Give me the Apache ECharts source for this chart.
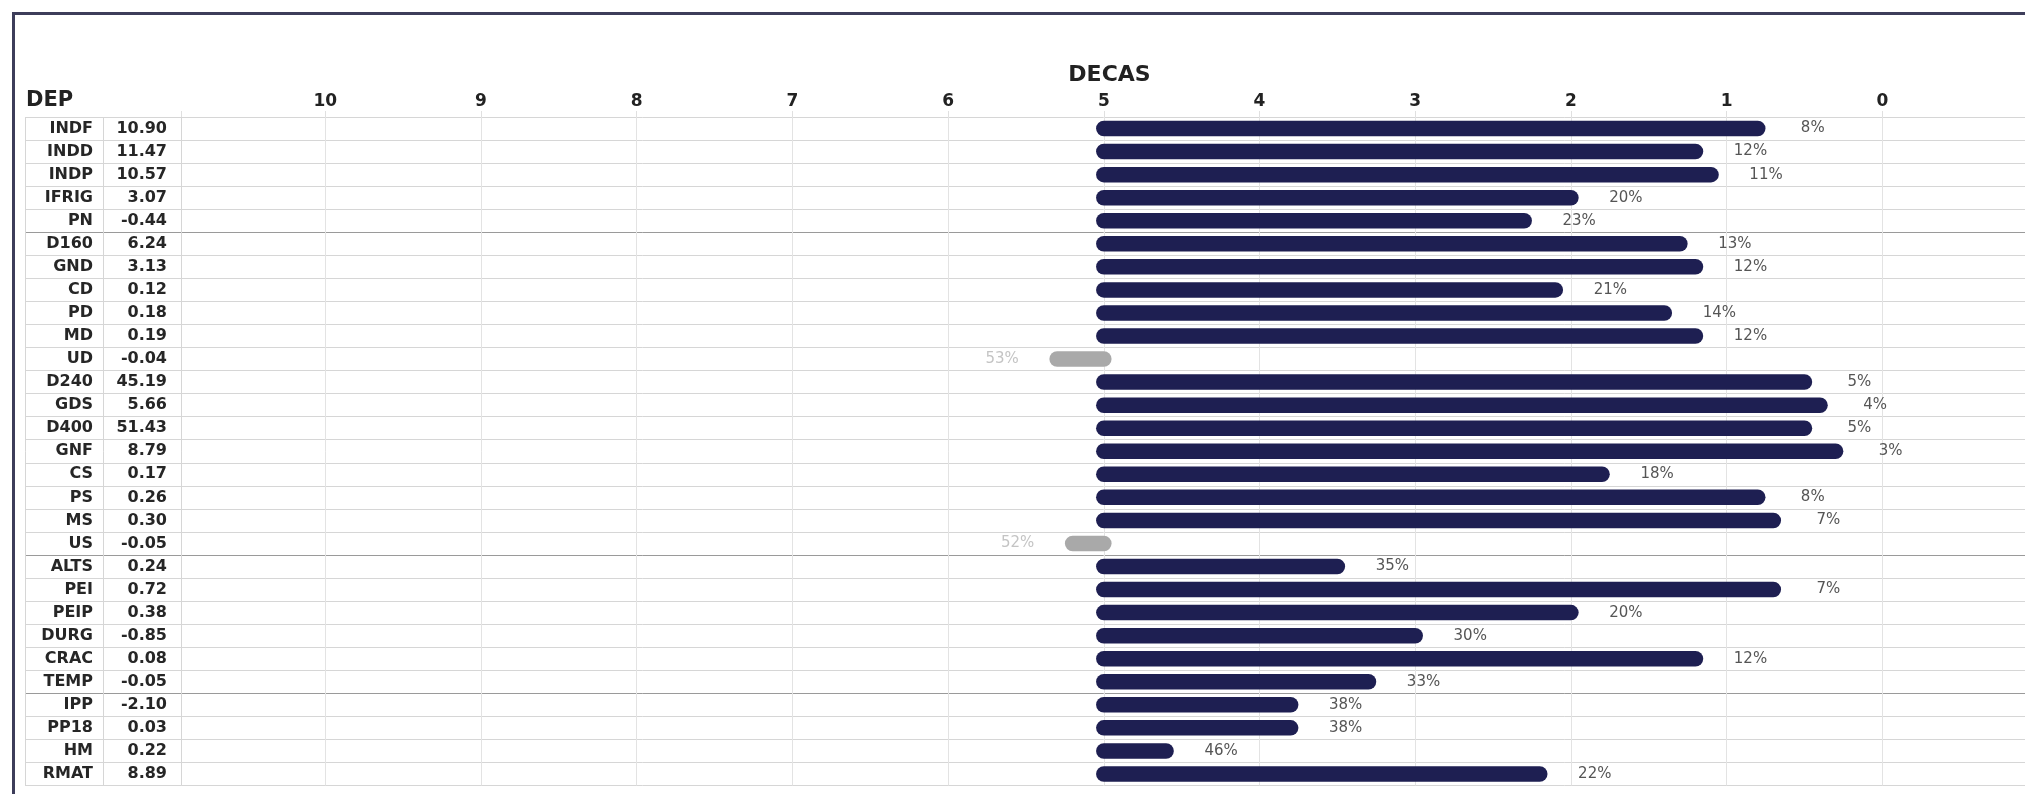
<!DOCTYPE html>
<html><head><meta charset="utf-8">
<script src="https://cdn.jsdelivr.net/npm/echarts@6/dist/echarts.min.js"></script>
<style>
html,body{margin:0;padding:0;background:#fff;overflow:hidden;}
#c{position:absolute;left:0;top:0;width:2025px;height:794px;}
#frame{position:absolute;left:12px;top:12px;width:2100px;height:900px;border-left:3px solid #3d3d5a;border-top:3px solid #3d3d5a;pointer-events:none;}
</style></head><body><div id="c"></div><div id="frame"></div>
<script>
const categories = ['INDF','INDD','INDP','IFRIG','PN','D160','GND','CD','PD','MD','UD','D240','GDS','D400','GNF','CS','PS','MS','US','ALTS','PEI','PEIP','DURG','CRAC','TEMP','IPP','PP18','HM','RMAT'];
const depValues = ['10.90','11.47','10.57','3.07','-0.44','6.24','3.13','0.12','0.18','0.19','-0.04','45.19','5.66','51.43','8.79','0.17','0.26','0.30','-0.05','0.24','0.72','0.38','-0.85','0.08','-0.05','-2.10','0.03','0.22','8.89'];
const percents = [8,12,11,20,23,13,12,21,14,12,53,5,4,5,3,18,8,7,52,35,7,20,30,12,33,38,38,46,22];
const tickLabels = [10,9,8,7,6,5,4,3,2,1,0];
const groupStarts = [5,19,25];

const chart = echarts.init(document.getElementById('c'), null, {renderer:'canvas'});

const rowLineColors = [];
for (let i = 0; i <= categories.length; i++) rowLineColors.push(groupStarts.indexOf(i) >= 0 ? '#9a9a9a' : '#d6d6d6');

const NAVY = '#1e1f52', GRAY = '#a9a9a9';

function renderItem(params, api) {
  const v = api.value(0), i = api.value(1), p = api.value(2);
  const s = api.coord([5, i]);
  const e = api.coord([v, i]);
  const left = v > 5;
  return {type:'group', children:[
    {type:'line', shape:{x1:s[0], y1:s[1], x2:e[0], y2:e[1]},
     style:{stroke: left ? GRAY : NAVY, lineWidth:15.5, lineCap:'round'}},
    {type:'text', x: e[0] + (left ? -55 : 55), y: e[1],
     style:{text: p + '%', align:'center', verticalAlign:'middle', fill: left ? '#c4c4c4' : '#555', font:'15px "DejaVu Sans"'}}
  ]};
}

const option = {
  backgroundColor:'#fff',
  animation:false,
  title:{text:'DEP', left:26, top:90, padding:0, textStyle:{fontFamily:'DejaVu Sans', fontWeight:'bold', fontSize:21, color:'#222'}},
  grid:[
    {left:181, width:1857, top:117, bottom:8.5, outerBoundsMode:'none', containLabel:false},
    {left:25, width:156, top:117, bottom:8.5, outerBoundsMode:'none', containLabel:false}
  ],
  xAxis:[
    {type:'value', gridIndex:0, inverse:true, position:'top', min:-1, max:10.927, interval:1,
     name:'DECAS', nameLocation:'middle', nameGap:31,
     nameTextStyle:{fontFamily:'DejaVu Sans', fontWeight:'bold', fontSize:22, color:'#222'},
     axisLine:{show:false},
     axisTick:{show:true, length:6, lineStyle:{color:'#e0e0e0'}},
     axisLabel:{margin:7, fontFamily:'DejaVu Sans', fontWeight:'bold', fontSize:17, color:'#222',
       formatter: v => { const r = Math.round(v); return (Math.abs(v - r) < 1e-6 && tickLabels.indexOf(r) >= 0) ? String(r) : ''; }},
     splitLine:{show:true, lineStyle:{color:'#e3e3e3', width:1}}},
    {type:'value', gridIndex:1, min:0, max:2, interval:1,
     axisLine:{show:false}, axisTick:{show:false}, axisLabel:{show:false},
     splitLine:{show:true, lineStyle:{color:'#d6d6d6', width:1}}}
  ],
  yAxis:[
    {type:'category', gridIndex:0, inverse:true, data:categories,
     axisLine:{show:false}, axisTick:{show:false}, axisLabel:{show:false},
     splitLine:{show:true, lineStyle:{color:rowLineColors, width:1}}},
    {type:'category', gridIndex:1, inverse:true, data:categories, position:'right',
     axisLine:{show:false}, axisTick:{show:false},
     axisLabel:{inside:true, margin:14, fontFamily:'DejaVu Sans', fontWeight:'bold', fontSize:16, color:'#262626',
       formatter:(val, idx) => '{n|' + val + '}{v|' + depValues[idx] + '}',
       rich:{
         n:{width:72, align:'right', fontFamily:'DejaVu Sans', fontWeight:'bold', fontSize:16, color:'#262626'},
         v:{width:74, align:'right', fontFamily:'DejaVu Sans', fontWeight:'bold', fontSize:16, color:'#262626'}
       }},
     splitLine:{show:true, lineStyle:{color:rowLineColors, width:1}}}
  ],
  series:[{
    type:'custom', xAxisIndex:0, yAxisIndex:0, clip:false,
    renderItem: renderItem,
    encode:{x:0, y:1},
    data: percents.map((p, i) => [p / 10, i, p])
  }]
};
chart.setOption(option);
</script></body></html>
